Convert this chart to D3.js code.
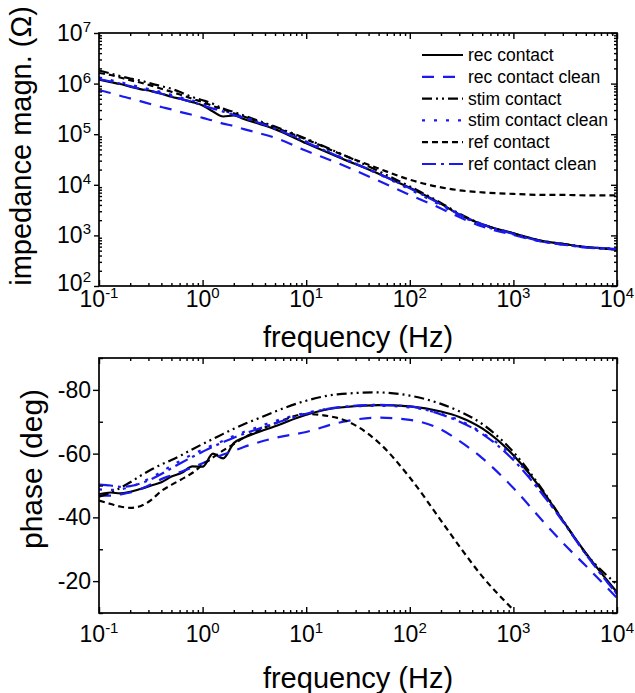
<!DOCTYPE html>
<html lang="en">
<head>
<meta charset="UTF-8">
<title>Impedance spectra</title>
<style>
    body { margin: 0; background: #fff; }
    svg { display: block; font-family: "Liberation Sans", Arial, sans-serif; }
    .frame { fill: none; stroke: #000; stroke-width: 1.7px; }
    .tick line { stroke: #000; stroke-width: 1.4px; }
    .curve { fill: none; stroke-width: 2.2px; }
</style>
</head>
<body>
<svg width="635" height="693"></svg>
<script src="https://d3js.org/d3.v7.min.js"></script>
<script>
(function () {
    'use strict';

    // frequencies (Hz) shared by all series
    var freq = [0.1, 0.13, 0.16, 0.2, 0.25, 0.32, 0.4, 0.5, 0.63, 0.8, 1, 1.26, 1.58, 2, 2.5, 3.2, 5, 10, 20, 50,
        100, 200, 300, 500, 1000, 2000, 3000, 5000, 10000];

    var seriesNames = ["rec contact", "rec contact clean", "stim contact", "stim contact clean", "ref contact", "ref contact clean"];

    // impedance magnitude (ohm)
    var zRec = [1.20e6, 1.07e6, 9.8e5, 8.7e5, 7.8e5, 7.1e5, 6.3e5, 5.5e5, 4.9e5, 4.3e5, 3.7e5, 2.8e5, 2.24e5, 2.34e5, 2.0e5,
        1.7e5, 1.26e5, 6.6e4, 3.6e4, 1.66e4, 8.7e3, 4.2e3, 2.6e3, 1.66e3, 1.1e3, 760, 680, 590, 525];
    var zRecClean = [7.4e5, 6.5e5, 5.75e5, 5.1e5, 4.5e5, 3.9e5, 3.45e5, 3.1e5, 2.7e5, 2.4e5, 2.1e5, 1.86e5, 1.62e5, 1.45e5, 1.26e5,
        1.1e5, 8.5e4, 4.7e4, 2.7e4, 1.2e4, 6.3e3, 3.4e3, 2.3e3, 1.5e3, 1.02e3, 740, 660, 590, 550];
    var zStim = [1.82e6, 1.58e6, 1.41e6, 1.26e6, 1.15e6, 1.0e6, 8.9e5, 7.9e5, 6.6e5, 5.4e5, 4.7e5, 4.0e5, 3.2e5, 2.75e5, 2.34e5,
        1.95e5, 1.41e5, 8.1e4, 4.4e4, 1.86e4, 9.3e3, 4.4e3, 2.7e3, 1.66e3, 1.1e3, 760, 680, 590, 525];
    var zStimClean = [1.32e6, 1.17e6, 1.07e6, 9.5e5, 8.5e5, 7.6e5, 6.8e5, 6.0e5, 5.25e5, 4.6e5, 4.0e5, 3.5e5, 2.95e5, 2.5e5, 2.2e5,
        1.86e5, 1.35e5, 7.2e4, 3.8e4, 1.62e4, 8.1e3, 3.9e3, 2.5e3, 1.58e3, 1.05e3, 740, 660, 590, 550];
    var zRef = [1.62e6, 1.48e6, 1.32e6, 1.17e6, 1.05e6, 9.1e5, 7.9e5, 6.9e5, 5.9e5, 5.0e5, 4.3e5, 3.6e5, 3.1e5, 2.6e5, 2.24e5,
        1.86e5, 1.35e5, 7.9e4, 4.3e4, 2.1e4, 1.26e4, 8.9e3, 7.8e3, 7.1e3, 6.6e3, 6.3e3, 6.3e3, 6.2e3, 6.2e3];
    var zRefClean = [1.23e6, 1.10e6, 1.0e6, 8.9e5, 7.9e5, 7.1e5, 6.3e5, 5.6e5, 4.9e5, 4.3e5, 3.7e5, 3.2e5, 2.8e5, 2.4e5, 2.1e5,
        1.78e5, 1.29e5, 6.9e4, 3.7e4, 1.66e4, 8.5e3, 4.1e3, 2.6e3, 1.66e3, 1.07e3, 740, 660, 575, 540];

    // phase (deg)
    var pRec = [-47.2, -47.8, -47.5, -48.0, -48.9, -50.0, -51.0, -52.8, -54.0, -56.0, -55.9, -60.0, -58.5, -63.3, -65.0,
        -66.4, -68.6, -72.2, -74.4, -75.2, -74.8, -73.2, -71.5, -67.9, -59.5, -47.4, -39.0, -28.8, -16.5];
    var pRecClean = [-46.8, -46.8, -47.2, -47.8, -48.8, -50.4, -52.0, -53.2, -54.4, -55.7, -57.0, -58.4, -59.7, -60.9, -62.1,
        -63.2, -64.9, -66.8, -69.6, -71.3, -70.6, -67.6, -64.0, -58.6, -49.2, -38.2, -32.0, -24.8, -14.7];
    var pStim = [-46.5, -47.8, -49.2, -51.0, -53.0, -55.0, -56.6, -58.0, -59.6, -61.4, -63.0, -64.6, -66.2, -67.8, -69.2,
        -70.6, -73.2, -76.6, -78.6, -79.2, -78.2, -75.6, -73.3, -69.3, -60.5, -47.7, -39.1, -28.7, -19.0];
    var pStimClean = [-48.8, -48.6, -48.8, -49.5, -50.8, -52.5, -54.3, -56.2, -58.0, -59.8, -61.3, -62.7, -64.0, -65.5, -66.8,
        -68.0, -70.2, -72.8, -74.4, -75.0, -74.5, -72.5, -70.5, -66.5, -59.0, -46.5, -39.0, -28.5, -16.0];
    var pRef = [-45.3, -44.2, -43.4, -43.0, -43.5, -45.5, -48.3, -50.2, -52.0, -54.0, -56.5, -58.8, -61.0, -63.0, -65.0,
        -66.8, -69.5, -72.4, -71.2, -63.5, -52.5, -39.0, -31.0, -21.5, -11.0, null, null, null, null];
    var pRefClean = [-50.3, -50.0, -49.6, -49.8, -50.6, -52.0, -53.6, -55.4, -57.2, -59.0, -60.6, -62.2, -63.6, -65.0, -66.2,
        -67.4, -69.5, -72.5, -74.5, -75.3, -74.8, -72.3, -70.1, -66.2, -58.0, -46.4, -38.7, -28.4, -15.9];

    var freqTicks = [0.1, 1, 10, 100, 1000, 10000];
    var freqExp = ["-1", "0", "1", "2", "3", "4"];
    var zTicks = [1e2, 1e3, 1e4, 1e5, 1e6, 1e7];
    var zExp = ["2", "3", "4", "5", "6", "7"];
    var phaseTicks = [-80, -60, -40, -20];
    var phaseMinor = [-90, -70, -50, -30, -10];

    var BLUE = "#1a1aee";
    var colors = ["#000", BLUE, "#000", BLUE, "#000", BLUE];
    var dashes = [null, "12,9", "10,4,2,4,2,4", "3,9", "6,4", "14,5,3,5"];

    var zData = [zRec, zRecClean, zStim, zStimClean, zRef, zRefClean];
    var pData = [pRec, pRecClean, pStim, pStimClean, pRef, pRefClean];

    var LEFT = 99, RIGHT = 617;
    var svg = d3.select("svg");

    var x = d3.scaleLog().domain([0.1, 1e4]).range([LEFT, RIGHT]);
    var yZ = d3.scaleLog().domain([1e2, 1e7]).range([286, 33]);
    var yP = d3.scaleLinear().domain([-10, -90]).range([613, 358]);

    var minorFreq = [];
    freqTicks.slice(0, -1).forEach(function (d) {
        for (var k = 2; k <= 9; k++) minorFreq.push(d * k);
    });
    var minorZ = [];
    zTicks.slice(0, -1).forEach(function (d) {
        for (var k = 2; k <= 9; k++) minorZ.push(d * k);
    });

    function addAxis(axis, tx, ty) {
        var g = svg.append("g").attr("transform", "translate(" + tx + "," + ty + ")").call(axis.tickFormat(""));
        g.select(".domain").remove();
        return g;
    }

    function frame(y, labelOffset) {
        // x ticks, bottom and top, pointing inward
        addAxis(d3.axisBottom(x).tickValues(freqTicks).tickSizeInner(-6).tickSizeOuter(0), 0, y.range()[0]);
        addAxis(d3.axisBottom(x).tickValues(minorFreq).tickSizeInner(-3).tickSizeOuter(0), 0, y.range()[0]);
        addAxis(d3.axisTop(x).tickValues(freqTicks).tickSizeInner(-6).tickSizeOuter(0), 0, y.range()[1]);
        addAxis(d3.axisTop(x).tickValues(minorFreq).tickSizeInner(-3).tickSizeOuter(0), 0, y.range()[1]);

        svg.append("rect").attr("class", "frame")
            .attr("x", LEFT).attr("y", y.range()[1])
            .attr("width", RIGHT - LEFT).attr("height", y.range()[0] - y.range()[1]);

        var lab = svg.append("g").selectAll("text")
            .data(freqTicks)
            .enter()
            .append("text")
            .attr("x", function (d) { return x(d); })
            .attr("y", y.range()[0] + labelOffset)
            .attr("text-anchor", "middle")
            .attr("font-size", 23);
        lab.append("tspan").text("10");
        lab.append("tspan").attr("font-size", 15).attr("dy", -9).text(function (d, i) { return freqExp[i]; });
    }

    function drawCurves(y, data, clipId) {
        svg.append("clipPath").attr("id", clipId)
            .append("rect")
            .attr("x", LEFT).attr("y", y.range()[1])
            .attr("width", RIGHT - LEFT).attr("height", y.range()[0] - y.range()[1]);

        var line = d3.line()
            .defined(function (d) { return d[1] !== null; })
            .x(function (d) { return x(d[0]); })
            .y(function (d) { return y(d[1]); })
            .curve(d3.curveMonotoneX);

        svg.append("g").attr("clip-path", "url(#" + clipId + ")")
            .selectAll("path")
            .data(data)
            .enter()
            .append("path")
            .attr("class", "curve")
            .attr("stroke", function (d, i) { return colors[i]; })
            .attr("stroke-dasharray", function (d, i) { return dashes[i]; })
            .attr("d", function (vals) {
                return line(freq.map(function (f, j) { return [f, vals[j]]; }));
            });
    }

    // ---- top: impedance magnitude ----
    drawCurves(yZ, zData, "clipZ");
    frame(yZ, 21);
    addAxis(d3.axisLeft(yZ).tickValues(zTicks).tickSizeInner(5).tickSizeOuter(0), LEFT, 0);
    addAxis(d3.axisLeft(yZ).tickValues(minorZ).tickSizeInner(-3).tickSizeOuter(0), LEFT, 0);
    addAxis(d3.axisRight(yZ).tickValues(zTicks).tickSizeInner(-6).tickSizeOuter(0), RIGHT, 0);
    addAxis(d3.axisRight(yZ).tickValues(minorZ).tickSizeInner(-3).tickSizeOuter(0), RIGHT, 0);

    var zl = svg.append("g").selectAll("text")
        .data(zTicks)
        .enter()
        .append("text")
        .attr("x", 91)
        .attr("y", function (d) { return yZ(d) + (d === 1e2 ? 5 : 8); })
        .attr("text-anchor", "end")
        .attr("font-size", 23);
    zl.append("tspan").text("10");
    zl.append("tspan").attr("font-size", 15).attr("dy", -9).text(function (d, i) { return zExp[i]; });

    svg.append("text")
        .attr("transform", "translate(31,146) rotate(-90)")
        .attr("text-anchor", "middle")
        .attr("font-size", 29)
        .text("impedance magn. (\u03A9)");
    svg.append("text")
        .attr("x", (LEFT + RIGHT) / 2)
        .attr("y", 347)
        .attr("text-anchor", "middle")
        .attr("font-size", 29)
        .text("frequency (Hz)");

    // legend
    var legend = svg.append("g").selectAll("g")
        .data(seriesNames)
        .enter()
        .append("g")
        .attr("transform", function (d, i) { return "translate(422," + (55 + i * 21.8) + ")"; });
    legend.append("line")
        .attr("x1", 0).attr("x2", 41)
        .attr("stroke-width", 2.2)
        .attr("stroke", function (d, i) { return colors[i]; })
        .attr("stroke-dasharray", function (d, i) { return dashes[i]; });
    legend.append("text")
        .attr("x", 46).attr("y", 6)
        .attr("font-size", 17.5)
        .text(function (d) { return d; });

    // ---- bottom: phase ----
    drawCurves(yP, pData, "clipP");
    frame(yP, 29);
    addAxis(d3.axisLeft(yP).tickValues(phaseTicks).tickSizeInner(6).tickSizeOuter(0), LEFT, 0);
    addAxis(d3.axisLeft(yP).tickValues(phaseMinor).tickSizeInner(-4).tickSizeOuter(0), LEFT, 0);
    addAxis(d3.axisRight(yP).tickValues(phaseTicks.concat(phaseMinor)).tickSizeInner(-5).tickSizeOuter(0), RIGHT, 0);

    svg.append("g").selectAll("text")
        .data(phaseTicks)
        .enter()
        .append("text")
        .attr("x", 91)
        .attr("y", function (d) { return yP(d) + 8; })
        .attr("text-anchor", "end")
        .attr("font-size", 23)
        .text(function (d) { return d; });

    svg.append("text")
        .attr("transform", "translate(42,469) rotate(-90)")
        .attr("text-anchor", "middle")
        .attr("font-size", 30)
        .text("phase (deg)");
    svg.append("text")
        .attr("x", (LEFT + RIGHT) / 2)
        .attr("y", 688)
        .attr("text-anchor", "middle")
        .attr("font-size", 29)
        .text("frequency (Hz)");
})();
</script>
</body>
</html>
